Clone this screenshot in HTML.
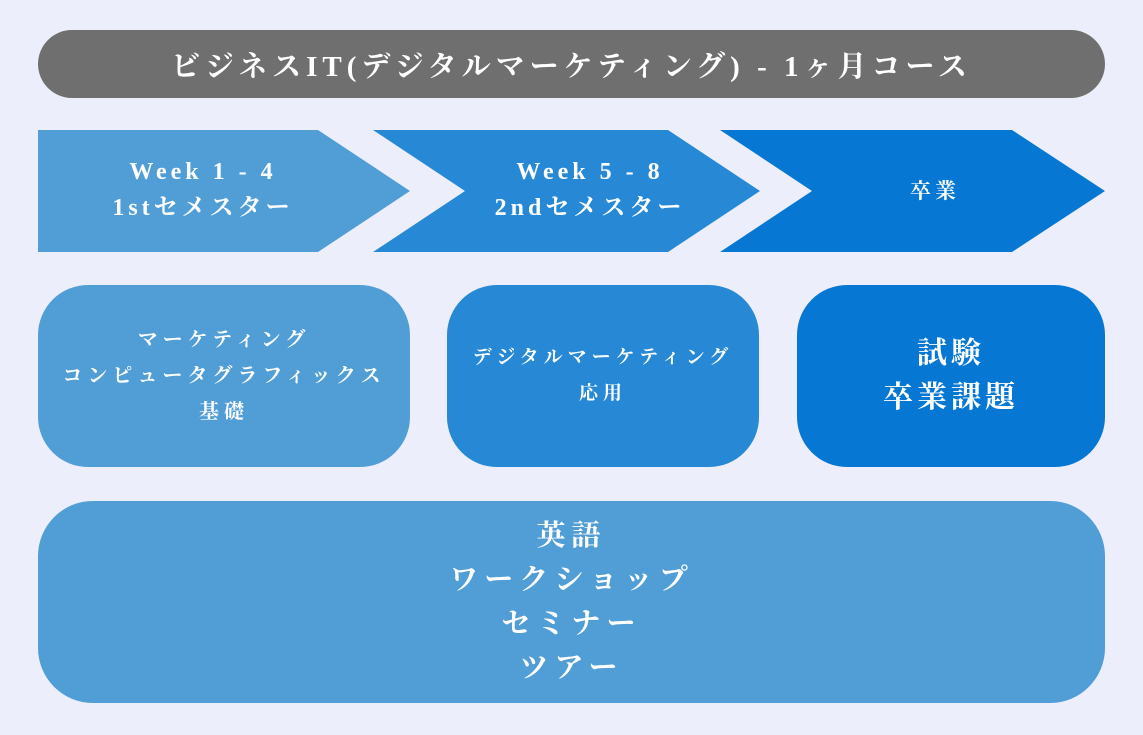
<!DOCTYPE html>
<html><head><meta charset="utf-8"><style>
html,body{margin:0;padding:0;}
body{width:1143px;height:735px;background:#edeefb;position:relative;overflow:hidden;font-family:"Liberation Serif","Noto Serif CJK JP","Noto Serif CJK SC",serif;color:#fff;}
.t{position:absolute;display:flex;align-items:center;justify-content:center;text-align:center;font-weight:bold;letter-spacing:4px;}
.bx{position:absolute;display:flex;align-items:center;justify-content:center;text-align:center;font-weight:bold;letter-spacing:4px;}
</style></head><body>
<div class="bx" style="left:38px;top:30px;width:1067px;height:68px;border-radius:34px;background:#6f6f6f;font-size:29px;letter-spacing:5px;">ビジネスIT(デジタルマーケティング) - 1ヶ月コース</div>
<svg style="position:absolute;left:0;top:0" width="1143" height="735">
<polygon points="38,130 318,130 410,191 318,252 38,252" fill="#519ed6"/>
<polygon points="373,130 668,130 760,191 668,252 373,252 465,191" fill="#2788d5"/>
<polygon points="720,130 1012,130 1105,191 1012,252 720,252 812,191" fill="#0678d3"/>
</svg>
<div class="t" style="left:38px;top:150px;width:330px;height:80px;font-size:24px;line-height:36px;">Week 1 - 4<br>1stセメスター</div>
<div class="t" style="left:425px;top:150px;width:330px;height:80px;font-size:24px;line-height:36px;">Week 5 - 8<br>2ndセメスター</div>
<div class="t" style="left:800px;top:150px;width:270px;height:80px;font-size:21px;">卒業</div>
<div class="bx" style="left:38px;top:285px;width:372px;height:182px;border-radius:50px;background:#519ed6;font-size:20px;line-height:36px;letter-spacing:5px;">マーケティング<br>コンピュータグラフィックス<br>基礎</div>
<div class="bx" style="left:447px;top:285px;width:312px;height:182px;border-radius:50px;background:#2788d5;font-size:19px;line-height:36px;letter-spacing:5px;">デジタルマーケティング<br>応用</div>
<div class="bx" style="left:797px;top:285px;width:308px;height:182px;border-radius:50px;background:#0678d3;font-size:30px;line-height:44px;">試験<br>卒業課題</div>
<div class="bx" style="left:38px;top:501px;width:1067px;height:202px;border-radius:55px;background:#519ed6;font-size:29px;line-height:44px;letter-spacing:6px;">英語<br>ワークショップ<br>セミナー<br>ツアー</div>
</body></html>
